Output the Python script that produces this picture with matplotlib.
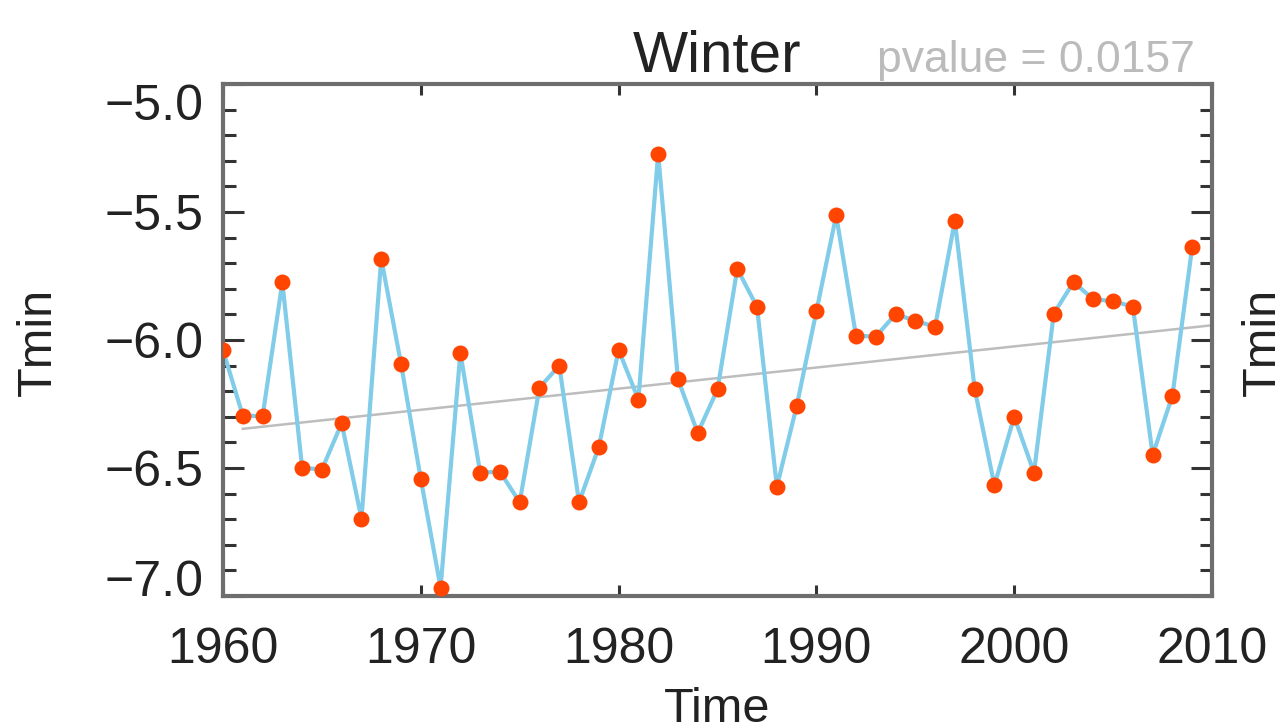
import numpy as np
import matplotlib.pyplot as plt
from matplotlib.ticker import MultipleLocator

years = np.arange(1960, 2010)
tmin = [-6.04, -6.295, -6.298, -5.775, -6.499, -6.506, -6.325, -6.698, -5.682, -6.093,
        -6.543, -6.967, -6.05, -6.518, -6.514, -6.634, -6.186, -6.10, -6.634, -6.418,
        -6.038, -6.233, -5.272, -6.153, -6.363, -6.193, -5.722, -5.871, -6.573, -6.259,
        -5.888, -5.513, -5.983, -5.987, -5.899, -5.925, -5.948, -5.534, -6.19, -6.568,
        -6.299, -6.518, -5.897, -5.774, -5.841, -5.848, -5.87, -6.449, -6.217, -5.636]
title = 'Winter'
pvalue_text = 'pvalue = 0.0157'
x_ticks = [1960, 1970, 1980, 1990, 2000, 2010]
y_ticks = [-7.0, -6.5, -6.0, -5.5, -5.0]

plt.rcParams['font.family'] = ['Liberation Sans', 'DejaVu Sans']

fig = plt.figure(figsize=(12.75, 7.24), dpi=100)
W, H = 1275.0, 724.0
left, right, top, bottom = 223, 1212, 84, 596
ax = fig.add_axes([left / W, 1 - bottom / H, (right - left) / W, (bottom - top) / H])

# linear trend, fitted against the year index shifted by one (as in the source plot)
fit_x = years + 1
coef = np.polyfit(fit_x, tmin, 1)
ax.plot(fit_x, np.polyval(coef, fit_x), color='#bdbdbd', lw=1.8, zorder=1)
ax.plot(years, tmin, color='#80cce9', lw=3.0, zorder=2)
ax.plot(years, tmin, 'o', color='#ff4500', ms=11.5, mec='none', zorder=3)

ax.set_xlim(1960, 2010)
ax.set_ylim(-7.0, -5.0)
ax.set_xticks(x_ticks)
ax.set_yticks(y_ticks)
ax.yaxis.set_minor_locator(MultipleLocator(0.1))

for s in ax.spines.values():
    s.set_color('#6e6e6e')
    s.set_linewidth(3.0)

ax.tick_params(axis='both', which='both', direction='in', top=True, right=True,
               colors='#333333', labelcolor='#222222', labelsize=36)
ax.tick_params(axis='y', which='major', length=15, width=2.2, pad=14)
ax.tick_params(axis='y', which='minor', length=9, width=2.2)
ax.tick_params(axis='x', which='major', length=8, width=2.2, pad=22)

# keep the end labels inside the axis range, as IDL does
ylabels = ax.yaxis.get_majorticklabels()
ylabels[0].set_va('baseline')
ylabels[-1].set_va('top')

ax.set_title(title, fontsize=42, color='#222222', pad=6)
ax.text(0.983, 1.023, pvalue_text, transform=ax.transAxes, ha='right',
        va='baseline', fontsize=32, color='#bbbbbb')

fig.text(38 / W, 1 - 342 / H, 'Tmin', rotation=90, ha='center', va='center',
         fontsize=35, color='#222222')
fig.text(1263.5 / W, 1 - 342 / H, 'Tmin', rotation=90, ha='center', va='center',
         fontsize=35, color='#222222')
fig.text((left + right) / 2 / W, 2 / H, 'Time', ha='center', va='baseline',
         fontsize=35, color='#222222')

fig.savefig('out.png', dpi=100)
